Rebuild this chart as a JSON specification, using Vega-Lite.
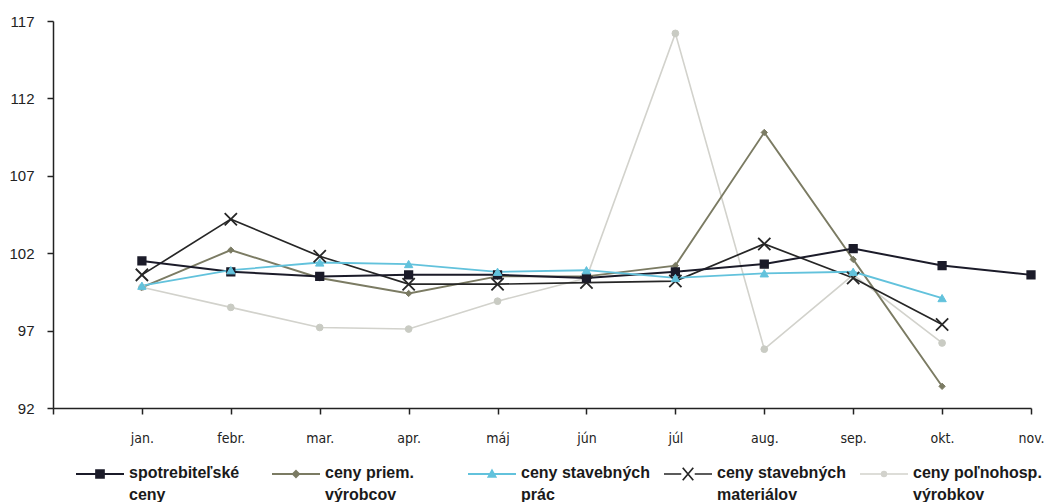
{
  "$schema": "https://vega.github.io/schema/vega-lite/v6.json",
  "width": 978,
  "height": 387,
  "autosize": {"type": "none"},
  "padding": {"left": 53, "top": 21, "right": 21, "bottom": 94},
  "background": "white",
  "config": {
    "view": {"stroke": null},
    "axis": {"grid": false, "domainColor": "#222222", "tickColor": "#222222", "domainWidth": 1.5, "tickWidth": 1.5, "labelColor": "#222222"}
  },
  "data": {"values": [
    {"m": "jan.", "s": "ceny poľnohosp. výrobkov", "v": 99.8},
    {"m": "febr.", "s": "ceny poľnohosp. výrobkov", "v": 98.5},
    {"m": "mar.", "s": "ceny poľnohosp. výrobkov", "v": 97.2},
    {"m": "apr.", "s": "ceny poľnohosp. výrobkov", "v": 97.1},
    {"m": "máj", "s": "ceny poľnohosp. výrobkov", "v": 98.9},
    {"m": "jún", "s": "ceny poľnohosp. výrobkov", "v": 100.4},
    {"m": "júl", "s": "ceny poľnohosp. výrobkov", "v": 116.2},
    {"m": "aug.", "s": "ceny poľnohosp. výrobkov", "v": 95.8},
    {"m": "sep.", "s": "ceny poľnohosp. výrobkov", "v": 100.6},
    {"m": "okt.", "s": "ceny poľnohosp. výrobkov", "v": 96.2},
    {"m": "jan.", "s": "ceny priem. výrobcov", "v": 99.8},
    {"m": "febr.", "s": "ceny priem. výrobcov", "v": 102.2},
    {"m": "mar.", "s": "ceny priem. výrobcov", "v": 100.4},
    {"m": "apr.", "s": "ceny priem. výrobcov", "v": 99.4},
    {"m": "máj", "s": "ceny priem. výrobcov", "v": 100.5},
    {"m": "jún", "s": "ceny priem. výrobcov", "v": 100.5},
    {"m": "júl", "s": "ceny priem. výrobcov", "v": 101.2},
    {"m": "aug.", "s": "ceny priem. výrobcov", "v": 109.8},
    {"m": "sep.", "s": "ceny priem. výrobcov", "v": 101.6},
    {"m": "okt.", "s": "ceny priem. výrobcov", "v": 93.4},
    {"m": "jan.", "s": "ceny stavebných materiálov", "v": 100.6},
    {"m": "febr.", "s": "ceny stavebných materiálov", "v": 104.2},
    {"m": "mar.", "s": "ceny stavebných materiálov", "v": 101.8},
    {"m": "apr.", "s": "ceny stavebných materiálov", "v": 100.0},
    {"m": "máj", "s": "ceny stavebných materiálov", "v": 100.0},
    {"m": "jún", "s": "ceny stavebných materiálov", "v": 100.1},
    {"m": "júl", "s": "ceny stavebných materiálov", "v": 100.2},
    {"m": "aug.", "s": "ceny stavebných materiálov", "v": 102.6},
    {"m": "sep.", "s": "ceny stavebných materiálov", "v": 100.4},
    {"m": "okt.", "s": "ceny stavebných materiálov", "v": 97.4},
    {"m": "jan.", "s": "spotrebiteľské ceny", "v": 101.5},
    {"m": "febr.", "s": "spotrebiteľské ceny", "v": 100.8},
    {"m": "mar.", "s": "spotrebiteľské ceny", "v": 100.5},
    {"m": "apr.", "s": "spotrebiteľské ceny", "v": 100.6},
    {"m": "máj", "s": "spotrebiteľské ceny", "v": 100.6},
    {"m": "jún", "s": "spotrebiteľské ceny", "v": 100.4},
    {"m": "júl", "s": "spotrebiteľské ceny", "v": 100.8},
    {"m": "aug.", "s": "spotrebiteľské ceny", "v": 101.3},
    {"m": "sep.", "s": "spotrebiteľské ceny", "v": 102.3},
    {"m": "okt.", "s": "spotrebiteľské ceny", "v": 101.2},
    {"m": "nov.", "s": "spotrebiteľské ceny", "v": 100.6},
    {"m": "jan.", "s": "ceny stavebných prác", "v": 99.9},
    {"m": "febr.", "s": "ceny stavebných prác", "v": 100.9},
    {"m": "mar.", "s": "ceny stavebných prác", "v": 101.4},
    {"m": "apr.", "s": "ceny stavebných prác", "v": 101.3},
    {"m": "máj", "s": "ceny stavebných prác", "v": 100.8},
    {"m": "jún", "s": "ceny stavebných prác", "v": 100.9},
    {"m": "júl", "s": "ceny stavebných prác", "v": 100.4},
    {"m": "aug.", "s": "ceny stavebných prác", "v": 100.7},
    {"m": "sep.", "s": "ceny stavebných prác", "v": 100.8},
    {"m": "okt.", "s": "ceny stavebných prác", "v": 99.1}
  ]},
  "encoding": {
    "x": {
      "field": "m", "type": "ordinal",
      "scale": {"type": "point", "padding": 0, "domain": ["", "jan.", "febr.", "mar.", "apr.", "máj", "jún", "júl", "aug.", "sep.", "okt.", "nov."]},
      "axis": {"title": null, "labelAngle": 0, "labelFont": "Liberation Sans Narrow, DejaVu Sans Condensed, sans-serif", "labelFontSize": 14, "labelPadding": 17, "tickSize": 6}
    },
    "y": {
      "field": "v", "type": "quantitative",
      "scale": {"domain": [92, 117], "nice": false, "zero": false},
      "axis": {"title": null, "values": [92, 97, 102, 107, 112, 117], "labelFont": "Liberation Sans, Arial, sans-serif", "labelFontSize": 15, "labelPadding": 13, "tickSize": 6}
    }
  },
  "layer": [
    {
      "mark": {"type": "line"},
      "encoding": {
        "color": {
          "field": "s", "type": "nominal",
          "scale": {
            "domain": ["spotrebiteľské ceny", "ceny priem. výrobcov", "ceny stavebných prác", "ceny stavebných materiálov", "ceny poľnohosp. výrobkov"],
            "range": ["#1b1b29", "#7b7b63", "#62c2dc", "#262626", "#d2d2cc"]
          },
          "legend": {
            "title": null,
            "orient": "none",
            "legendX": 22,
            "legendY": 428,
            "direction": "horizontal",
            "columns": 5,
            "gridAlign": "all",
            "columnPadding": 10,
            "symbolSize": 2304,
            "labelFont": "Liberation Sans, Arial, sans-serif",
            "labelFontWeight": "bold",
            "labelFontSize": 16,
            "labelColor": "#1a1a1a",
            "labelOffset": 4,
            "labelLimit": 220,
            "labelBaseline": "top",
            "labelExpr": "[substring(datum.label, 0, lastindexof(datum.label, ' ')), substring(datum.label, lastindexof(datum.label, ' ') + 1)]",
            "encode": {
              "labels": {"update": {"lineHeight": {"value": 22}, "dy": {"value": -9}}},
              "symbols": {"update": {
                "shape": {"signal": "datum.value === 'spotrebiteľské ceny' ? 'M-1,0H1M-0.16,-0.16H0.16V0.16H-0.16Z' : datum.value === 'ceny priem. výrobcov' ? 'M-1,0H1M0,-0.13L0.13,0L0,0.13L-0.13,0Z' : datum.value === 'ceny stavebných prác' ? 'M-1,0H1M0,-0.15L0.15,0.12H-0.15Z' : datum.value === 'ceny stavebných materiálov' ? 'M-1,0H-0.28M0.28,0H1M-0.22,-0.26L0.22,0.26M-0.22,0.26L0.22,-0.26' : 'M-1,0H1M0.1,0A0.1,0.1 0 1,1 -0.1,0A0.1,0.1 0 1,1 0.1,0Z'"},
                "size": {"value": 2304},
                "fill": {"signal": "scale('color', datum.value)"},
                "stroke": {"signal": "scale('color', datum.value)"},
                "strokeWidth": {"value": 1.6},
                "opacity": {"value": 1},
                "fillOpacity": {"value": 1},
                "strokeOpacity": {"value": 1}
              }}
            }
          }
        },
        "strokeWidth": {
          "field": "s", "type": "nominal",
          "scale": {"domain": ["spotrebiteľské ceny", "ceny priem. výrobcov", "ceny stavebných prác", "ceny stavebných materiálov", "ceny poľnohosp. výrobkov"], "range": [2, 1.6, 1.6, 2.2, 1.1]},
          "legend": null
        }
      }
    },
    {
      "transform": [{"filter": {"field": "s", "equal": "ceny poľnohosp. výrobkov"}}],
      "mark": {"type": "point", "shape": "circle", "filled": true, "opacity": 1, "size": 45, "fill": "#c9cbc3", "stroke": "#c9cbc3", "strokeWidth": 1}
    },
    {
      "transform": [{"filter": {"field": "s", "equal": "ceny priem. výrobcov"}}],
      "mark": {"type": "point", "shape": "diamond", "filled": true, "opacity": 1, "size": 40, "fill": "#7b7b63", "stroke": "#7b7b63", "strokeWidth": 1}
    },
    {
      "transform": [{"filter": {"field": "s", "equal": "ceny stavebných materiálov"}}],
      "mark": {"type": "point", "shape": "M-1,-1L1,1M-1,1L1,-1", "filled": false, "opacity": 1, "size": 150, "fill": null, "stroke": "#262626", "strokeWidth": 1.8}
    },
    {
      "transform": [{"filter": {"field": "s", "equal": "spotrebiteľské ceny"}}],
      "mark": {"type": "point", "shape": "square", "filled": true, "opacity": 1, "size": 60, "fill": "#1b1b29", "stroke": "#1b1b29", "strokeWidth": 1.5}
    },
    {
      "transform": [{"filter": {"field": "s", "equal": "ceny stavebných prác"}}],
      "mark": {"type": "point", "shape": "triangle-up", "filled": true, "opacity": 1, "size": 70, "fill": "#62c2dc", "stroke": "#62c2dc", "strokeWidth": 1}
    }
  ]
}
